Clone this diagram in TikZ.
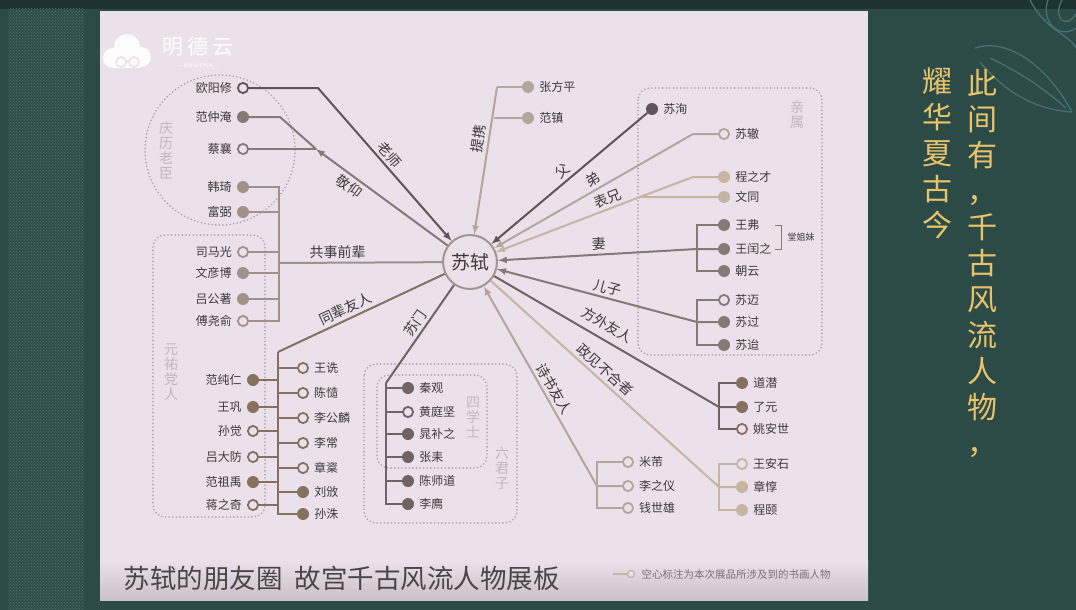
\documentclass[tikz,border=0pt]{standalone}
\usepackage{fontspec}
\setmainfont{Noto Sans CJK SC}
\usetikzlibrary{patterns}

\definecolor{frame}{HTML}{2C4B47}
\definecolor{frametop}{HTML}{1D3330}
\definecolor{patbg}{HTML}{2F4E4A}
\definecolor{patc}{HTML}{52726D}
\definecolor{paper}{HTML}{EAE1EB}
\definecolor{paperlow}{HTML}{C9C0C9}
\definecolor{ink}{HTML}{3E393B}
\definecolor{grpc}{HTML}{C2B7C1}
\definecolor{dotc}{HTML}{A89FA9}
\definecolor{ring}{HTML}{A3968F}
\definecolor{dk}{HTML}{5F5557}
\definecolor{dkb}{HTML}{6F6461}
\definecolor{md}{HTML}{857A74}
\definecolor{mdl}{HTML}{A09289}
\definecolor{br}{HTML}{867161}
\definecolor{lt}{HTML}{B4A69D}
\definecolor{tan}{HTML}{C5B5A2}
\definecolor{gold}{HTML}{E8C36C}
\definecolor{orn}{HTML}{46716C}
\definecolor{titc}{HTML}{4A4648}
\definecolor{legc}{HTML}{7A7274}

\tikzset{
  fdot/.style={circle, inner sep=0pt, minimum size=12pt, fill=#1},
  odot/.style={circle, inner sep=0pt, minimum size=10.2pt, draw=#1, line width=1.8pt, fill=paper},
  rl/.style={draw=#1, line width=2pt},
  rel/.style={font=\fontsize{14}{16}\selectfont, text=ink, sloped, above=2pt, inner sep=1pt},
  grp/.style={font=\fontsize{14}{15}\selectfont, text=grpc, align=center, inner sep=0pt},
  zone/.style={draw=dotc, line width=1.8pt, dash pattern=on 0pt off 3.6pt, line cap=round},
}

\begin{document}
\begin{tikzpicture}[x=1pt, y=-1pt, >=latex,
  label distance=5pt,
  every label/.style={font=\fontsize{12}{14}\selectfont, text=ink, inner sep=0pt}]
  \useasboundingbox (0,0) rectangle (1076,610);

  % frame, patterned strip and board
  \fill[frame] (0,0) rectangle (1076,610);
  \fill[frametop] (0,0) rectangle (1076,9);
  \fill[patbg] (8,9) rectangle (84,610);
  \fill[pattern=crosshatch dots, pattern color=patc] (8,9) rectangle (84,610);
  \fill[paper] (100,11) rectangle (868,600);
  \shade[top color=paper, bottom color=paperlow] (100,560) rectangle (868,600);

  % ornament, top right
  \begin{scope}[draw=orn, line width=1.3pt]
    \draw (1030,0) .. controls (1045,30) and (1070,35) .. (1076,48);
    \draw (1048,0) .. controls (1040,22) and (1060,40) .. (1076,28);
    \draw (1062,0) .. controls (1052,18) and (1066,30) .. (1076,14);
    \draw (975,48) .. controls (1005,38) and (1045,62) .. (1072,112);
    \draw (980,62) .. controls (1008,96) and (1040,110) .. (1072,112);
    \draw (990,58) .. controls (1015,70) and (1040,85) .. (1066,108);
  \end{scope}

  % logo
  \fill[white, opacity=0.9] (113,58) circle (10pt) (127,47) circle (13pt)
    (141,57) circle (10pt) (113,52) rectangle (141,68);
  \draw[paper, line width=1.6pt] (121,62) circle (5pt) (134,62) circle (5pt);
  \draw[paper, line width=1.6pt] (126,61) -- (129,61);
  \node[text=white, font=\fontsize{21}{23}\selectfont] (logo) at (198,47)
    {明\hspace{4pt}德\hspace{4pt}云};
  \node[text=white, font=\fontsize{5}{6}\selectfont] (logosub) at (198,66) {— MINGDEYUN —};

  % dotted groups
  \draw[zone] (220,150) circle (75pt);
  \draw[zone, rounded corners=12pt] (153,235) rectangle (265,517);
  \draw[zone, rounded corners=12pt] (377,375) rectangle (487,468);
  \draw[zone, rounded corners=12pt] (364,364) rectangle (517,523);
  \draw[zone, rounded corners=12pt] (638,88) rectangle (822,355);
  \node[grp] (qingli) at (166,150) {庆\\历\\老\\臣};
  \node[grp] (yuanyou) at (171,372) {元\\祐\\党\\人};
  \node[grp] (sixue) at (473,417) {四\\学\\士};
  \node[grp] (liujun) at (502,468) {六\\君\\子};
  \node[grp] (qinshu) at (797,115) {亲\\属};

  % centre
  \node[circle, draw=ring, line width=2pt, fill=paper, minimum size=54pt,
        font=\fontsize{19}{21}\selectfont, text=ink] (sushi) at (470,262) {苏轼};

  % teacher and elders
  \node[odot=dk, label=left:欧阳修] (ouyang) at (243,88) {};
  \node[fdot=md, label=left:范仲淹] (fanzy) at (243,117) {};
  \node[odot=md, label=left:蔡襄] (caixiang) at (243,149) {};
  \node[fdot=mdl, label=left:韩琦] (hanqi) at (243,187) {};
  \node[fdot=mdl, label=left:富弼] (fubi) at (243,212) {};
  \coordinate (ls) at (318,88);
  \draw[rl=dk, ->] (ouyang) -- (ls) -- (sushi) node[rel, pos=0.48] {老师};
  \coordinate (fz) at (280,117);
  \coordinate (jy) at (316,149);
  \draw[rl=md] (fanzy) -- (fz) -- (jy);
  \draw[rl=md] (caixiang) -- (jy);
  \draw[rl=md, ->] (sushi) -- (jy) node[rel, below=4pt, pos=0.7] {敬仰};

  % colleagues
  \node[odot=mdl, label=left:司马光] (sima) at (243,252) {};
  \node[fdot=mdl, label=left:文彦博] (wenyb) at (243,273) {};
  \node[fdot=mdl, label=left:吕公著] (lvgz) at (243,299) {};
  \node[odot=mdl, label=left:傅尧俞] (fuyy) at (243,321) {};
  \coordinate (gs) at (279,263);
  \draw[rl=mdl] (hanqi) -| (gs);
  \draw[rl=mdl] (fuyy) -| (gs);
  \draw[rl=mdl] (fubi) -- (fubi -| gs);
  \draw[rl=mdl] (sima) -- (sima -| gs);
  \draw[rl=mdl] (wenyb) -- (wenyb -| gs);
  \draw[rl=mdl] (lvgz) -- (lvgz -| gs);
  \draw[rl=mdl] (gs) -- (sushi) node[rel, pos=0.36] {共事前辈};

  % friends of the same generation
  \node[fdot=br, label=left:范纯仁] (fancr) at (253,380) {};
  \node[fdot=br, label=left:王巩] (wanggong) at (253,407) {};
  \node[odot=br, label=left:孙觉] (sunjue) at (253,431) {};
  \node[odot=br, label=left:吕大防] (lvdf) at (253,457) {};
  \node[fdot=br, label=left:范祖禹] (fanzuyu) at (253,482) {};
  \node[odot=br, label=left:蒋之奇] (jiangzq) at (253,505) {};
  \node[odot=br, label=right:王诜] (wangshen) at (303,368) {};
  \node[odot=br, label=right:陈慥] (chenzao) at (303,393) {};
  \node[odot=br, label=right:李公麟] (ligl) at (303,418) {};
  \node[odot=br, label=right:李常] (lichang) at (303,443) {};
  \node[odot=br, label=right:章楶] (zhangjie) at (303,468) {};
  \node[fdot=br, label=right:刘攽] (liuban) at (303,492) {};
  \node[fdot=br, label=right:孙洙] (sunzhu) at (303,514) {};
  \coordinate (tb) at (278,352);
  \draw[rl=br] (sunzhu) -| (tb);
  \draw[rl=br] (fancr) -- (fancr -| tb);
  \draw[rl=br] (wanggong) -- (wanggong -| tb);
  \draw[rl=br] (sunjue) -- (sunjue -| tb);
  \draw[rl=br] (lvdf) -- (lvdf -| tb);
  \draw[rl=br] (fanzuyu) -- (fanzuyu -| tb);
  \draw[rl=br] (jiangzq) -- (jiangzq -| tb);
  \draw[rl=br] (wangshen) -- (wangshen -| tb);
  \draw[rl=br] (chenzao) -- (chenzao -| tb);
  \draw[rl=br] (ligl) -- (ligl -| tb);
  \draw[rl=br] (lichang) -- (lichang -| tb);
  \draw[rl=br] (zhangjie) -- (zhangjie -| tb);
  \draw[rl=br] (liuban) -- (liuban -| tb);
  \draw[rl=br] (tb) -- (sushi) node[rel, pos=0.43] {同辈友人};

  % disciples
  \node[fdot=dkb, label=right:秦观] (qinguan) at (408,388) {};
  \node[odot=dkb, label=right:黄庭坚] (huangtj) at (408,412) {};
  \node[fdot=dkb, label=right:晁补之] (chaobz) at (408,434) {};
  \node[fdot=dkb, label=right:张耒] (zhanglei) at (408,457) {};
  \node[fdot=dkb, label=right:陈师道] (chensd) at (408,481) {};
  \node[fdot=dkb, label=right:李廌] (lizhi) at (408,504) {};
  \coordinate (sm) at (386,383);
  \draw[rl=dkb] (lizhi) -| (sm);
  \draw[rl=dkb] (qinguan) -- (qinguan -| sm);
  \draw[rl=dkb] (huangtj) -- (huangtj -| sm);
  \draw[rl=dkb] (chaobz) -- (chaobz -| sm);
  \draw[rl=dkb] (zhanglei) -- (zhanglei -| sm);
  \draw[rl=dkb] (chensd) -- (chensd -| sm);
  \draw[rl=dkb] (sm) -- (sushi) node[rel, pos=0.55] {苏门};

  % patrons
  \node[fdot=lt, label=right:张方平] (zhangfp) at (528,87) {};
  \node[fdot=lt, label=right:范镇] (fanzhen) at (528,118) {};
  \coordinate (tx) at (497,87);
  \coordinate (tx2) at (494,118);
  \draw[rl=lt] (zhangfp) -- (tx);
  \draw[rl=lt] (fanzhen) -- (tx2);
  \draw[rl=lt, ->] (tx) -- (sushi) node[rel, pos=0.36] {提携};

  % family
  \node[fdot=dk, label=right:苏洵] (suxun) at (652,109) {};
  \node[odot=lt, label=right:苏辙] (suzhe) at (724,134) {};
  \node[fdot=tan, label=right:程之才] (chengzc) at (724,177) {};
  \node[fdot=tan, label=right:文同] (wentong) at (724,197) {};
  \node[fdot=md, label=right:王弗] (wangfu) at (724,225) {};
  \node[fdot=md, label=right:王闰之] (wangrz) at (724,249) {};
  \node[fdot=md, label=right:朝云] (chaoyun) at (724,271) {};
  \node[odot=md, label=right:苏迈] (sumai) at (724,300) {};
  \node[fdot=md, label=right:苏过] (suguo) at (724,322) {};
  \node[fdot=md, label=right:苏迨] (sudai) at (724,345) {};
  \draw[rl=dk, ->] (suxun) -- (sushi) node[rel, pos=0.5] {父};
  \coordinate (dj) at (693,134);
  \draw[rl=lt, ->] (suzhe) -- (dj) -- (sushi) node[rel, pos=0.48] {弟};
  \coordinate (bx1) at (693,177);
  \coordinate (bx) at (640,197);
  \draw[rl=tan] (chengzc) -- (bx1) -- (bx);
  \draw[rl=tan, ->] (wentong) -- (bx) -- (sushi) node[rel, pos=0.2] {表兄};
  \coordinate (qj) at (697,249);
  \draw[rl=md] (wangfu) -| (qj);
  \draw[rl=md] (chaoyun) -| (qj);
  \draw[rl=md, ->] (wangrz) -- (qj) -- (sushi) node[rel, pos=0.49] {妻};
  \coordinate (ez) at (697,322);
  \draw[rl=md] (sumai) -| (ez);
  \draw[rl=md] (sudai) -| (ez);
  \draw[rl=md, ->] (suguo) -- (ez) -- (sushi) node[rel, pos=0.46] {儿子};
  % cousins bracket
  \coordinate (tj1) at (775,225);
  \coordinate (tj2) at (775,249);
  \draw[md, line width=1pt] (tj1) -- ++(6,0) |- (tj2);
  \node[anchor=west, font=\fontsize{9}{10}\selectfont, text=ink] (tangjm) at (784,237) {堂姐妹};

  % monks
  \node[fdot=br, label=right:道潜] (daoqian) at (742,383) {};
  \node[fdot=br, label=right:了元] (liaoyuan) at (742,407) {};
  \node[odot=br, label=right:姚安世] (yaoas) at (742,429) {};
  \coordinate (fw) at (719,407);
  \draw[rl=dkb] (daoqian) -| (fw);
  \draw[rl=dkb] (yaoas) -| (fw);
  \draw[rl=dkb] (liaoyuan) -- (fw) -- (sushi) node[rel, above=4pt, pos=0.53] {方外友人};

  % political opponents
  \node[odot=tan, label=right:王安石] (wangas) at (742,464) {};
  \node[fdot=tan, label=right:章惇] (zhangdun) at (742,487) {};
  \node[fdot=tan, label=right:程颐] (chengyi) at (742,510) {};
  \coordinate (zj) at (719,487);
  \draw[rl=tan] (wangas) -| (zj);
  \draw[rl=tan] (chengyi) -| (zj);
  \draw[rl=tan] (zhangdun) -- (zj) -- (sushi) node[rel, pos=0.53] {政见不合者};

  % poets and calligraphers
  \node[odot=lt, label=right:米芾] (mifu) at (628,462) {};
  \node[odot=lt, label=right:李之仪] (lizy) at (628,486) {};
  \node[odot=lt, label=right:钱世雄] (qiansx) at (628,508) {};
  \coordinate (ss) at (597,486);
  \draw[rl=lt] (mifu) -| (ss);
  \draw[rl=lt] (qiansx) -| (ss);
  \draw[rl=lt, ->] (lizy) -- (ss) -- (sushi) node[rel, pos=0.46] {诗书友人};

  % caption and legend
  \node[anchor=west, font=\fontsize{26.5}{28}\selectfont, text=titc] (title) at (120,578)
    {苏轼的朋友圈\hspace{12pt}故宫千古风流人物展板};
  \coordinate (lg) at (613,574);
  \node[odot=tan, minimum size=7pt, line width=1.3pt] (lgdot) at (631,574) {};
  \draw[tan, line width=1.3pt] (lg) -- (lgdot);
  \node[anchor=west, font=\fontsize{10.5}{12}\selectfont, text=legc] (legend) at (638,574)
    {空心标注为本次展品所涉及到的书画人物};

  % side verse
  \node[anchor=north, align=center, text=gold, font=\fontsize{30}{36}\selectfont] (verse1)
    at (982,66) {此\\间\\有\\，\\千\\古\\风\\流\\人\\物\\，};
  \node[anchor=north, align=center, text=gold, font=\fontsize{30}{36}\selectfont] (verse2)
    at (937,64) {耀\\华\\夏\\古\\今};
\end{tikzpicture}
\end{document}
